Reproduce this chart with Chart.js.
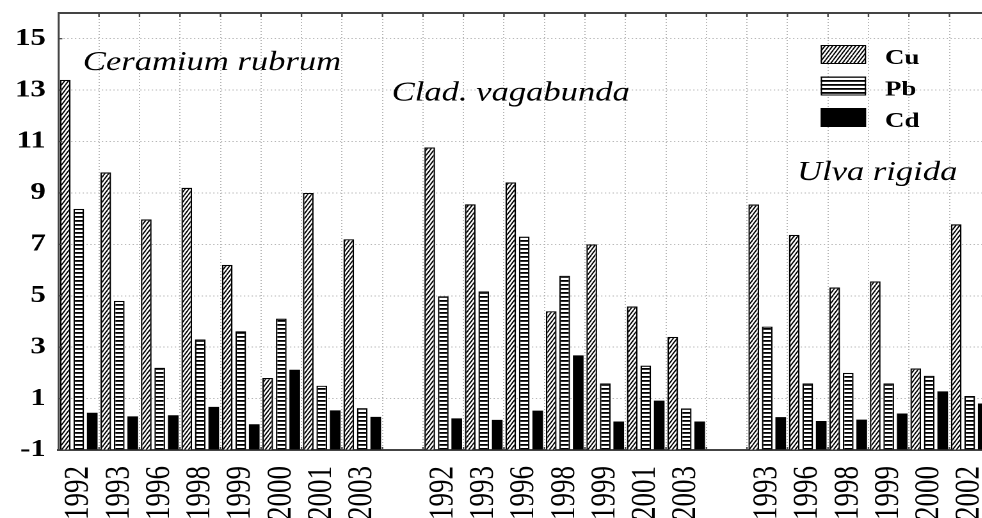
<!DOCTYPE html>
<html><head><meta charset="utf-8">
<script src="https://cdn.jsdelivr.net/npm/chart.js@4/dist/chart.umd.min.js"></script>
<style>
html,body{margin:0;padding:0;background:#fff;overflow:hidden;width:982px;height:518px}
#c{display:block;transform:scaleX(1.28);transform-origin:0 0}
</style></head><body>
<canvas id="c" width="780" height="518" style="width:780px;height:518px"></canvas>
<script>
const categories = ['1992','1993','1996','1998','1999','2000','2001','2003','',
                    '1992','1993','1996','1998','1999','2001','2003','',
                    '1993','1996','1998','1999','2000','2002'];
const cu = [13.4, 9.8, 7.97, 9.2, 6.2, 1.8, 9.0, 7.2, null,
            10.77, 8.56, 9.41, 4.4, 7.0, 4.58, 3.4, null,
            8.55, 7.37, 5.32, 5.56, 2.17, 7.78];
const pb = [8.38, 4.8, 2.2, 3.3, 3.62, 4.11, 1.5, 0.63, null,
            4.98, 5.17, 7.3, 5.78, 1.59, 2.28, 0.62, null,
            3.8, 1.59, 2.0, 1.59, 1.89, 1.1];
const cd = [0.45, 0.31, 0.35, 0.68, 0.0, 2.12, 0.54, 0.29, null,
            0.23, 0.17, 0.53, 2.68, 0.11, 0.92, 0.11, null,
            0.28, 0.13, 0.18, 0.42, 1.28, 0.81];
const yTicks = [-1, 1, 3, 5, 7, 9, 11, 13, 15];
const seriesNames = ['Cu', 'Pb', 'Cd'];
const speciesNames = ['Ceramium rubrum', 'Clad. vagabunda', 'Ulva rigida'];

const SERIF = '"Liberation Serif", serif';
const canvas = document.getElementById('c');
const ctx = canvas.getContext('2d');

function hatchPattern() {
  const t = document.createElement('canvas'); t.width = 6; t.height = 10;
  const g = t.getContext('2d');
  g.fillStyle = '#fff'; g.fillRect(0, 0, 6, 10);
  g.strokeStyle = '#000'; g.lineWidth = 2.2;
  for (let k = -1; k <= 1; k++) { g.beginPath(); g.moveTo(k * 6, 10); g.lineTo(k * 6 + 6, 0); g.stroke(); }
  const p = ctx.createPattern(t, 'repeat');
  p.setTransform(new DOMMatrix().scale(0.5, 0.5));
  return p;
}
function stripePattern() {
  const t = document.createElement('canvas'); t.width = 8; t.height = 8;
  const g = t.getContext('2d');
  g.fillStyle = '#fff'; g.fillRect(0, 0, 8, 8);
  g.fillStyle = '#000'; g.fillRect(0, 0, 8, 3.6);
  const p = ctx.createPattern(t, 'repeat');
  p.setTransform(new DOMMatrix().scale(0.5, 0.5));
  return p;
}
const fills = [hatchPattern(), stripePattern(), '#000'];

const decor = {
  id: 'decor',
  afterDraw(chart) {
    const c = chart.ctx, a = chart.chartArea, y = chart.scales.y;
    c.save();
    c.strokeStyle = '#444'; c.lineWidth = 2;
    c.beginPath(); c.moveTo(a.left, a.top); c.lineTo(a.right, a.top); c.stroke();
    const n = categories.length, cw = a.width / n;
    c.lineWidth = 1.2;
    for (let i = 0; i <= n; i++) {
      const px = a.left + i * cw;
      c.beginPath(); c.moveTo(px, a.top); c.lineTo(px, a.top + 4);
      c.moveTo(px, a.bottom); c.lineTo(px, a.bottom - 3); c.stroke();
    }
    for (const v of yTicks) {
      const py = y.getPixelForValue(v);
      c.beginPath(); c.moveTo(a.left, py); c.lineTo(a.left + 3, py); c.stroke();
    }
    c.fillStyle = '#000'; c.textAlign = 'left'; c.textBaseline = 'alphabetic';
    c.font = 'italic 27px ' + SERIF;
    const sp = [[0.0262, 13.79], [0.3577, 12.59], [0.7929, 9.5]];
    speciesNames.forEach((s, i) => {
      c.fillText(s, a.left + sp[i][0] * a.width, y.getPixelForValue(sp[i][1]));
    });
    c.font = 'bold 21px ' + SERIF;
    const lx = a.left + 595.5, bw = 35.4, bh = 19;
    chart.data.datasets.forEach((ds, i) => {
      const top = a.top + 32 + i * 31.5;
      c.fillStyle = ds.backgroundColor; c.fillRect(lx, top, bw, bh);
      c.strokeStyle = '#000'; c.lineWidth = 1; c.strokeRect(lx + 0.5, top + 0.5, bw - 1, bh - 1);
      c.fillStyle = '#000';
      c.fillText(ds.label, lx + 50.2, top + bh);
    });
    c.restore();
  }
};

new Chart(canvas, {
  type: 'bar',
  data: {
    labels: categories,
    datasets: [cu, pb, cd].map((d, i) => ({
      label: seriesNames[i], data: d, backgroundColor: fills[i],
      borderColor: '#000', borderWidth: i === 2 ? 0 : 1.2, base: -1
    }))
  },
  options: {
    responsive: false, animation: false, devicePixelRatio: 2,
    layout: { padding: { top: 13, right: 6.6, left: 0, bottom: 0 } },
    plugins: { legend: { display: false }, tooltip: { enabled: false } },
    datasets: { bar: { barPercentage: 0.79, categoryPercentage: 1 } },
    scales: {
      x: {
        offset: true,
        grid: { offset: true, color: '#b5b5b5', lineWidth: 1, drawTicks: false },
        border: { display: true, color: '#444', width: 2, dash: [1, 2] },
        ticks: { autoSkip: false, maxRotation: 90, minRotation: 90, padding: 16, color: '#000',
                 font: { family: SERIF, size: 27 } },
        afterFit: s => { s.height = 68; s.paddingLeft = 0; s.paddingRight = 0; }
      },
      y: {
        min: -1, max: 16,
        afterBuildTicks: s => { s.ticks = yTicks.map(v => ({ value: v })); },
        grid: { color: '#b5b5b5', lineWidth: 1, drawTicks: false },
        border: { display: true, color: '#444', width: 1.6, dash: [1, 2] },
        ticks: { padding: 10, color: '#000', font: { family: SERIF, size: 24, weight: 'bold' } },
        afterFit: s => { s.width = 45.7; s.paddingTop = 0; s.paddingBottom = 0; }
      }
    }
  },
  plugins: [decor]
});
</script>
</body></html>
